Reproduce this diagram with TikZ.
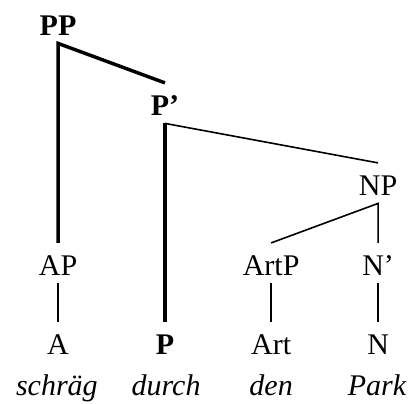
\documentclass[tikz,border=0pt]{standalone}
\usepackage{fontspec}
\setmainfont{Liberation Serif}

\tikzset{
  big/.style={font=\fontsize{22.5pt}{27pt}\selectfont},
  cat/.style={big, inner xsep=2pt, inner ysep=6pt, text height=18pt, text depth=0pt},
  word/.style={anchor=base, inner sep=0pt, font=\fontsize{22.5pt}{27pt}\selectfont\itshape},
  head/.style={line width=2.6pt},
  branch/.style={line width=1.2pt}
}

\begin{document}
\begin{tikzpicture}
          \useasboundingbox (0,0) rectangle (10.97,10.63);

          % categories
          \node[cat] (PP) at (1.53,10.02) {\textbf{PP}};
          \node[cat] (Pbar) at (4.35,7.91) {\textbf{P’}};
          \node[cat] (NP) at (9.97,5.80) {NP};

          \node[cat] (AP) at (1.53,3.69) {AP};
          \node[cat] (ArtP) at (7.15,3.69) {ArtP};
          \node[cat] (Nbar) at (9.97,3.69) {N’};

          \node[cat] (A) at (1.53,1.61) {A};
          \node[cat] (P) at (4.35,1.61) {\textbf{P}};
          \node[cat] (Art) at (7.15,1.61) {Art};
          \node[cat] (N) at (9.97,1.61) {N};

          % words
          \node[word] (schraeg) at (1.50,0.21) {schräg};
          \node[word] (durch) at (4.38,0.21) {durch};
          \node[word] (den) at (7.15,0.21) {den};
          \node[word] (Park) at (9.94,0.21) {Park};

          % head path
          \draw[head] (Pbar.north) -- (PP.south) -- (AP.north);
          \draw[head] (Pbar.south) -- (P.north);

          % other branches
          \draw[branch] (Pbar.south) -- (NP.north);
          \draw[branch] (ArtP.north) -- (NP.south) -- (Nbar.north);
          \draw[branch] (AP.south) -- (A.north);
          \draw[branch] (ArtP.south) -- (Art.north);
          \draw[branch] (Nbar.south) -- (N.north);
\end{tikzpicture}
\end{document}
